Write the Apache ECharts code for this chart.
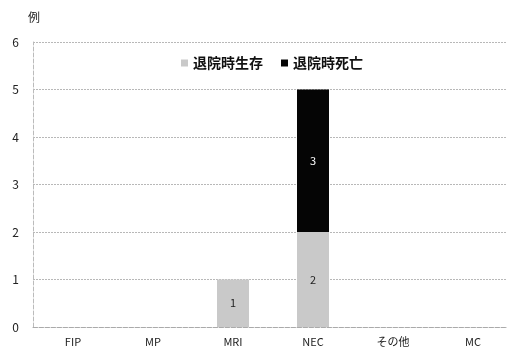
<!DOCTYPE html>
<html>
<head>
<meta charset="utf-8">
<script src="https://cdn.jsdelivr.net/npm/echarts@6/dist/echarts.min.js"></script>
<style>
html,body{margin:0;padding:0;background:#fff;overflow:hidden;width:507px;height:354px;}
#chart{width:520px;height:354px;}
</style>
</head>
<body>
<div id="chart"></div>
<script>
// 退院時転帰別の症例数（プロット領域は右端で少し切れる）
const categories = ['FIP', 'MP', 'MRI', 'NEC', 'その他', 'MC'];
const survived = [0, 0, 1, 2, 0, 0];
const died = [0, 0, 0, 3, 0, 0];
const seriesNames = ['退院時生存', '退院時死亡'];
const yTicks = [0, 1, 2, 3, 4, 5, 6];

const font = '"Noto Sans CJK JP", "DejaVu Sans", sans-serif';
const chart = echarts.init(document.getElementById('chart'));

function toData(arr) {
  return arr.map(v => (v === 0 ? null : v));
}

chart.setOption({
  animation: false,
  textStyle: { fontFamily: font },
  grid: { left: 33, width: 480, top: 42, height: 285, containLabel: false },
  legend: {
    top: 51,
    left: 176,
    itemWidth: 7,
    itemHeight: 7,
    itemGap: 18,
    icon: 'rect',
    textStyle: { fontSize: 14, fontWeight: 'bold', color: '#111', fontFamily: font },
    data: seriesNames
  },
  graphic: [{
    type: 'text', left: 28, top: 11,
    style: { text: '例', fontSize: 12, fill: '#222', fontFamily: font }
  }],
  xAxis: {
    type: 'category',
    data: categories,
    axisLine: { lineStyle: { color: '#aaa', type: 'dashed', width: 1 } },
    axisTick: { show: false },
    axisLabel: { color: '#222', fontSize: 11, margin: 9, fontFamily: font }
  },
  yAxis: {
    type: 'value',
    min: yTicks[0],
    max: yTicks[yTicks.length - 1],
    interval: 1,
    axisLine: { show: true, lineStyle: { color: '#bbb', type: 'dashed' } },
    axisTick: { show: false },
    axisLabel: { color: '#222', fontSize: 12, margin: 14, fontFamily: font },
    splitLine: { lineStyle: { color: '#b8b8b8', type: [2, 1], width: 1 } }
  },
  series: [
    {
      name: seriesNames[0],
      type: 'bar',
      stack: 'total',
      barWidth: 32,
      data: toData(survived),
      itemStyle: { color: '#c9c9c9' },
      label: { show: true, position: 'inside', color: '#222', fontSize: 11, fontFamily: font }
    },
    {
      name: seriesNames[1],
      type: 'bar',
      stack: 'total',
      barWidth: 32,
      data: toData(died),
      itemStyle: { color: '#050505' },
      label: { show: true, position: 'inside', color: '#fff', fontSize: 11, fontFamily: font }
    }
  ]
});
</script>
</body>
</html>
